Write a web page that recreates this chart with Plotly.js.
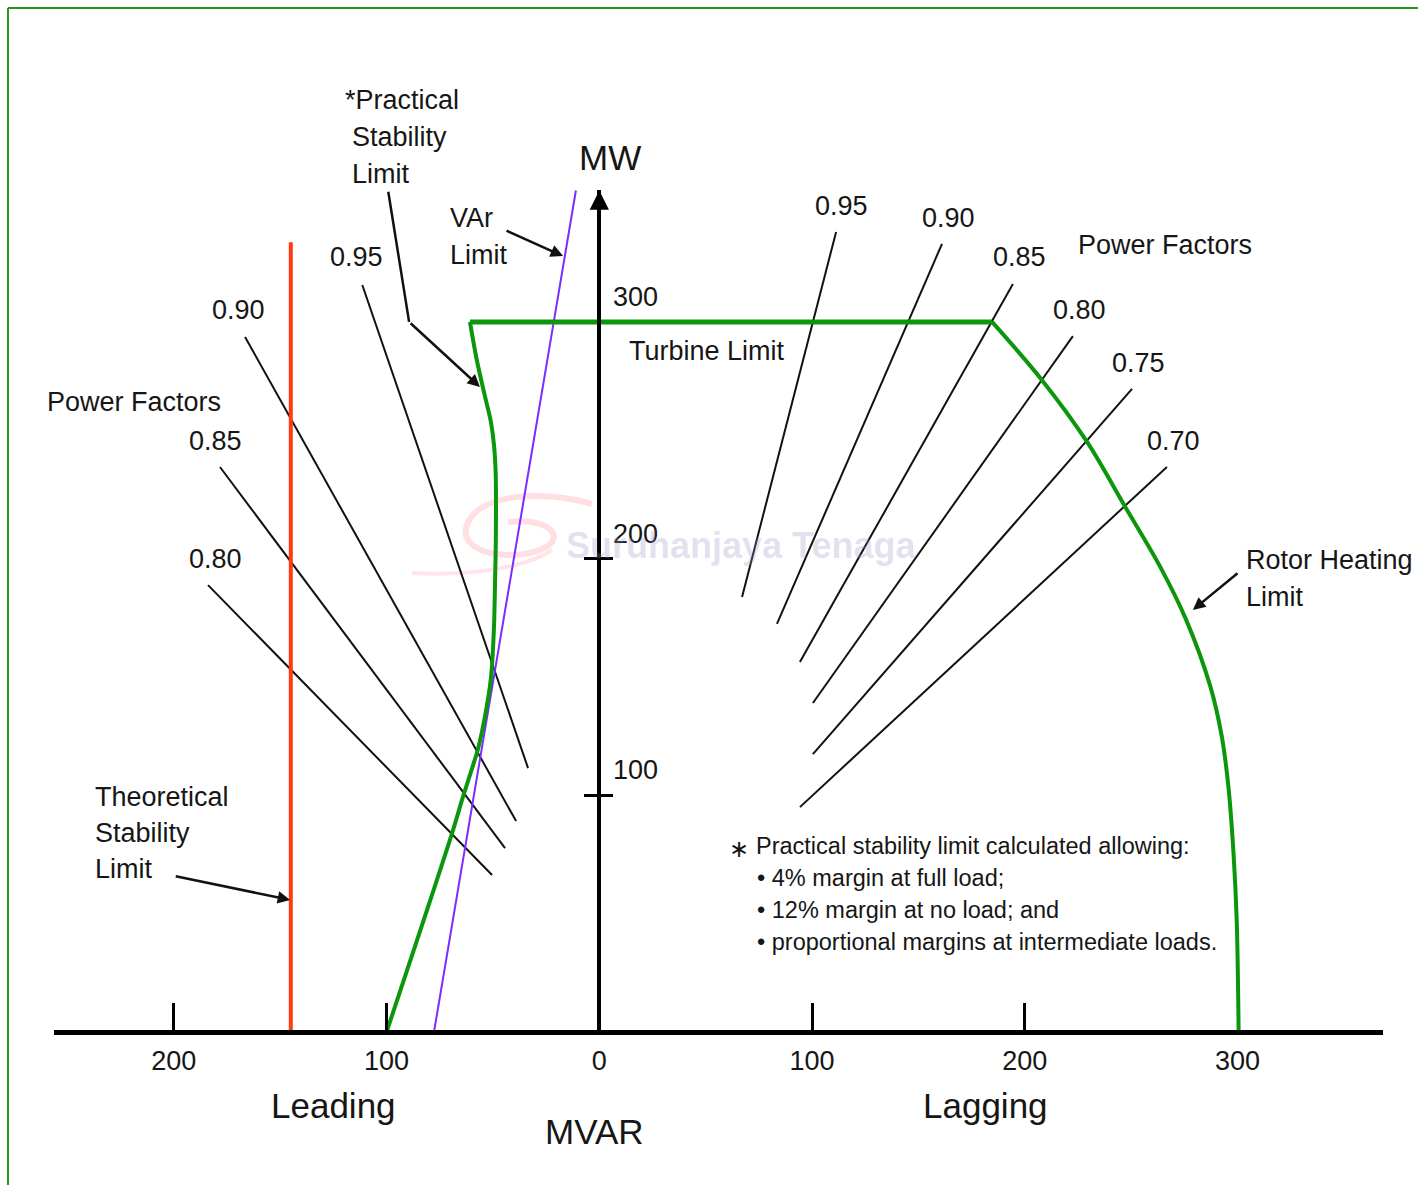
<!DOCTYPE html>
<html><head><meta charset="utf-8">
<script src="https://cdn.plot.ly/plotly-3.0.1.min.js"></script>
<style>html,body{margin:0;padding:0;background:#fff}#chart{width:1418px;height:1185px}</style>
</head><body><div id="chart"></div>
<script>
// ---------- DATA ----------
// Axis ticks (MVAR: leading negative, lagging positive; MW)
const xTickValues = [-200, -100, 0, 100, 200, 300];
const xTickLabels = ['200', '100', '0', '100', '200', '300'];
const xTickMarks  = [-200, -100, 100, 200];
const yTickValues = [100, 200, 300];
const yTickLabels = ['100', '200', '300'];
const yTickMarks  = [100, 200];

// Practical stability limit (green)
const pslMvar = [-100, -69.2, -64.1, -60.3, -56.9, -53.8, -51.0, -49.6, -49.0, -48.6, -48.7, -49.5, -51.0, -53.6, -57.6, -60.8];
const pslMw   = [0, 84, 99.3, 110, 120, 133, 149, 169, 190, 211, 236, 248, 258, 268, 284, 300];
// Turbine limit (green)
const turbineMvar = [-60.8, 184.6];
const turbineMw   = [300, 300];
// Rotor heating limit (green)
const rotorMvar = [184.6, 208, 229.2, 247.1, 263.6, 275.9, 287.2, 292.6, 295.7, 298.1, 299.6, 300.5];
const rotorMw   = [300, 275.5, 249.4, 222, 196.6, 174, 146, 124.8, 103.6, 75.5, 47.3, 0];
// VAr limit (purple)
const varMvar = [-77.7, -11.0];
const varMw   = [0, 355.5];
// Theoretical stability limit (red)
const tslMvar = [-145, -145];
const tslMw   = [0, 333.7];

// Power factor lines, lagging side
const pfLagLabels = ['0.95', '0.90', '0.85', '0.80', '0.75', '0.70'];
const pfLagX0 = [67.1, 83.5, 94.3, 100.4, 100.4, 94.3];
const pfLagY0 = [183.8, 172.4, 156.3, 139.0, 117.4, 95.0];
const pfLagX1 = [111.3, 161.1, 194.4, 222.6, 250.4, 266.8];
const pfLagY1 = [338.0, 333.0, 316.0, 294.0, 271.7, 238.7];
// Power factor lines, leading side
const pfLeadLabels = ['0.95', '0.90', '0.85', '0.80'];
const pfLeadX0 = [-33.5, -39.1, -44.3, -50.4];
const pfLeadY0 = [111.5, 89.1, 77.7, 66.3];
const pfLeadX1 = [-111.4, -166.5, -178.3, -183.9];
const pfLeadY1 = [315.6, 293.6, 238.7, 188.8];

const footnoteLines = [
  'Practical stability limit calculated allowing:',
  '\u2022 4% margin at full load;',
  '\u2022 12% margin at no load; and',
  '\u2022 proportional margins at intermediate loads.'
];

// ---------- LAYOUT GEOMETRY ----------
const W = 1418, H = 1185;
const L = 54, R = 1383, T = 190, B = 1030;
const PX0 = 599.3, SX = 2.1275, PY0 = 1032, SY = 2.367;
const xRange = [(L - PX0) / SX, (R - PX0) / SX];
const yRange = [(PY0 - B) / SY, (PY0 - T) / SY];
const yPos = (PX0 - L) / (R - L);
const px = v => (v - L) / (R - L);
const py = v => (B - v) / (B - T);

const FONT = 'Liberation Sans, Arial, sans-serif';
const TXT = '#161616';
const GREEN = '#0c960c';
const PURPLE = '#7b2cff';
const RED = '#ff3b12';

// ---------- TRACES ----------
const traces = [];
function seg(x, y, color, width, shape) {
  traces.push({type: 'scatter', mode: 'lines', x: x, y: y, hoverinfo: 'skip', showlegend: false,
    line: {color: color, width: width, shape: shape || 'linear', smoothing: 1.0}});
}
for (let i = 0; i < pfLagLabels.length; i++) seg([pfLagX0[i], pfLagX1[i]], [pfLagY0[i], pfLagY1[i]], '#111', 2);
for (let i = 0; i < pfLeadLabels.length; i++) seg([pfLeadX0[i], pfLeadX1[i]], [pfLeadY0[i], pfLeadY1[i]], '#111', 2);
seg(tslMvar, tslMw, RED, 4);
seg(varMvar, varMw, PURPLE, 2);
seg(pslMvar, pslMw, GREEN, 4, 'spline');
seg(rotorMvar, rotorMw, GREEN, 4, 'spline');
seg(turbineMvar, turbineMw, GREEN, 5);
// empty trace to activate the mirrored y axis (tick crosses)
traces.push({type: 'scatter', mode: 'lines', x: [null], y: [null], yaxis: 'y2', hoverinfo: 'skip', showlegend: false});

// ---------- ANNOTATIONS ----------
const ann = [];
function label(text, x, y, anchor, size, extra) {
  ann.push(Object.assign({text: text, xref: 'paper', yref: 'paper', x: px(x), y: py(y),
    xanchor: anchor || 'center', yanchor: 'middle', showarrow: false,
    font: {family: FONT, size: size || 27, color: TXT}}, extra || {}));
}
function arrow(x, y, ax, ay, head) {
  ann.push({text: '', x: x, y: y, ax: ax, ay: ay, xref: 'x', yref: 'y', axref: 'x', ayref: 'y',
    showarrow: true, arrowhead: head, arrowsize: 1, arrowwidth: 2.5, arrowcolor: '#111'});
}
// text labels
label('*Practical', 343, 100, 'left');
label('Stability', 350, 137, 'left');
label('Limit', 350, 174, 'left');
label('VAr', 448, 218, 'left');
label('Limit', 448, 255, 'left');
label('MW', 610, 158, 'center', 35);
label('Power Factors', 134, 402, 'center');
label('Theoretical', 93, 797, 'left');
label('Stability', 93, 833, 'left');
label('Limit', 93, 869, 'left');
label('Power Factors', 1076, 245, 'left');
label('Turbine Limit', 627, 351, 'left');
label('Rotor Heating', 1244, 560, 'left');
label('Limit', 1244, 597, 'left');
label('Leading', 333, 1105, 'center', 35);
label('Lagging', 985, 1105, 'center', 35);
label('MVAR', 594, 1131, 'center', 35);
// power factor labels
const pfLagPos = [[842, 206], [948, 218], [1019, 257], [1079, 310], [1138, 363], [1173, 441]];
pfLagLabels.forEach((t, i) => label(t, pfLagPos[i][0], pfLagPos[i][1], 'center'));
const pfLeadPos = [[356, 257], [238, 310], [215, 441], [215, 559]];
pfLeadLabels.forEach((t, i) => label(t, pfLeadPos[i][0], pfLeadPos[i][1], 'center'));
// y tick labels (placed above-right of the tick)
yTickValues.forEach((v, i) => ann.push({text: yTickLabels[i], x: 0, y: v, xref: 'x', yref: 'y',
  xanchor: 'left', yanchor: 'middle', xshift: 12, yshift: 25, showarrow: false,
  font: {family: FONT, size: 27, color: TXT}}));
// footnote
label('\u2217', 739, 849, 'center', 24, {font: {family: 'DejaVu Sans, sans-serif', size: 24, color: TXT}});
footnoteLines.forEach((t, i) => label(t, i === 0 ? 754 : 755, 846 + 32 * i, 'left', 23.5,
  {font: {family: FONT, size: 23.5, color: TXT}}));
// watermark
label('Suruhanjaya Tenaga', 741, 545, 'center', 36,
  {font: {family: FONT, size: 36, color: 'rgba(150,150,200,0.28)', weight: 'bold'}});
// arrows
arrow(-89.4, 300, -99.3, 355.6, 0);           // practical stability leader
arrow(-56.1, 272.5, -89.4, 300, 2);           // practical stability arrow
arrow(-17.0, 327.8, -44.3, 338.8, 2);         // VAr limit arrow
arrow(-145.3, 55.8, -199.8, 65.9, 2);         // theoretical stability arrow
arrow(279.0, 178.3, 300.7, 194.3, 2);         // rotor heating arrow
// y axis arrowhead
ann.push({text: '', x: 0, y: yRange[1] - 0.2, ax: 0, ay: yRange[1] - 8, xref: 'x', yref: 'y', axref: 'x', ayref: 'y',
  showarrow: true, arrowhead: 2, arrowsize: 1.1, arrowwidth: 3.5, arrowcolor: '#000'});

// ---------- SHAPES (frame + watermark swoosh) ----------
const P = (x, y) => px(x) + ',' + py(y);
const shapes = [
  {type: 'line', xref: 'paper', yref: 'paper', x0: px(8), x1: px(1430), y0: py(8), y1: py(8), line: {color: '#1f9a1f', width: 2}},
  {type: 'line', xref: 'paper', yref: 'paper', x0: px(8), x1: px(8), y0: py(8), y1: py(1200), line: {color: '#1f9a1f', width: 2}},
  {type: 'path', xref: 'paper', yref: 'paper', layer: 'below',
    path: 'M ' + P(592, 504) + ' C ' + P(545, 490) + ' ' + P(475, 492) + ' ' + P(466, 528) +
          ' C ' + P(460, 560) + ' ' + P(535, 562) + ' ' + P(552, 542) +
          ' C ' + P(560, 530) + ' ' + P(540, 518) + ' ' + P(508, 522),
    line: {color: 'rgba(255,110,125,0.22)', width: 6}},
  {type: 'path', xref: 'paper', yref: 'paper', layer: 'below',
    path: 'M ' + P(412, 573) + ' C ' + P(470, 576) + ' ' + P(525, 568) + ' ' + P(552, 550),
    line: {color: 'rgba(255,110,125,0.18)', width: 4}}
];

const layout = {
  width: W, height: H,
  margin: {l: L, r: W - R, t: T, b: H - B, pad: 0},
  paper_bgcolor: '#ffffff', plot_bgcolor: 'rgba(0,0,0,0)',
  showlegend: false,
  xaxis: {range: xRange, showgrid: false, zeroline: false, showline: true, linewidth: 5, linecolor: '#000',
    tickmode: 'array', tickvals: xTickValues, ticktext: xTickLabels, ticks: '',
    tickfont: {family: FONT, size: 27, color: TXT}, ticklabelstandoff: 3,
    minor: {tickmode: 'array', tickvals: xTickMarks, ticks: 'inside', ticklen: 27, tickwidth: 3, tickcolor: '#000', showgrid: false},
    fixedrange: true},
  yaxis: {range: yRange, anchor: 'free', position: yPos, side: 'left', showgrid: false, zeroline: false,
    showline: true, linewidth: 4, linecolor: '#000', tickmode: 'array', tickvals: yTickMarks,
    ticks: 'outside', ticklen: 13, tickwidth: 3, tickcolor: '#000', showticklabels: false, fixedrange: true},
  yaxis2: {range: yRange, overlaying: 'y', anchor: 'free', position: yPos, side: 'right', showgrid: false, zeroline: false,
    showline: false, tickmode: 'array', tickvals: yTickMarks, ticks: 'outside', ticklen: 13, tickwidth: 3,
    tickcolor: '#000', showticklabels: false, fixedrange: true},
  annotations: ann,
  shapes: shapes
};

Plotly.newPlot('chart', traces, layout, {staticPlot: true, displayModeBar: false});
</script>
</body></html>
